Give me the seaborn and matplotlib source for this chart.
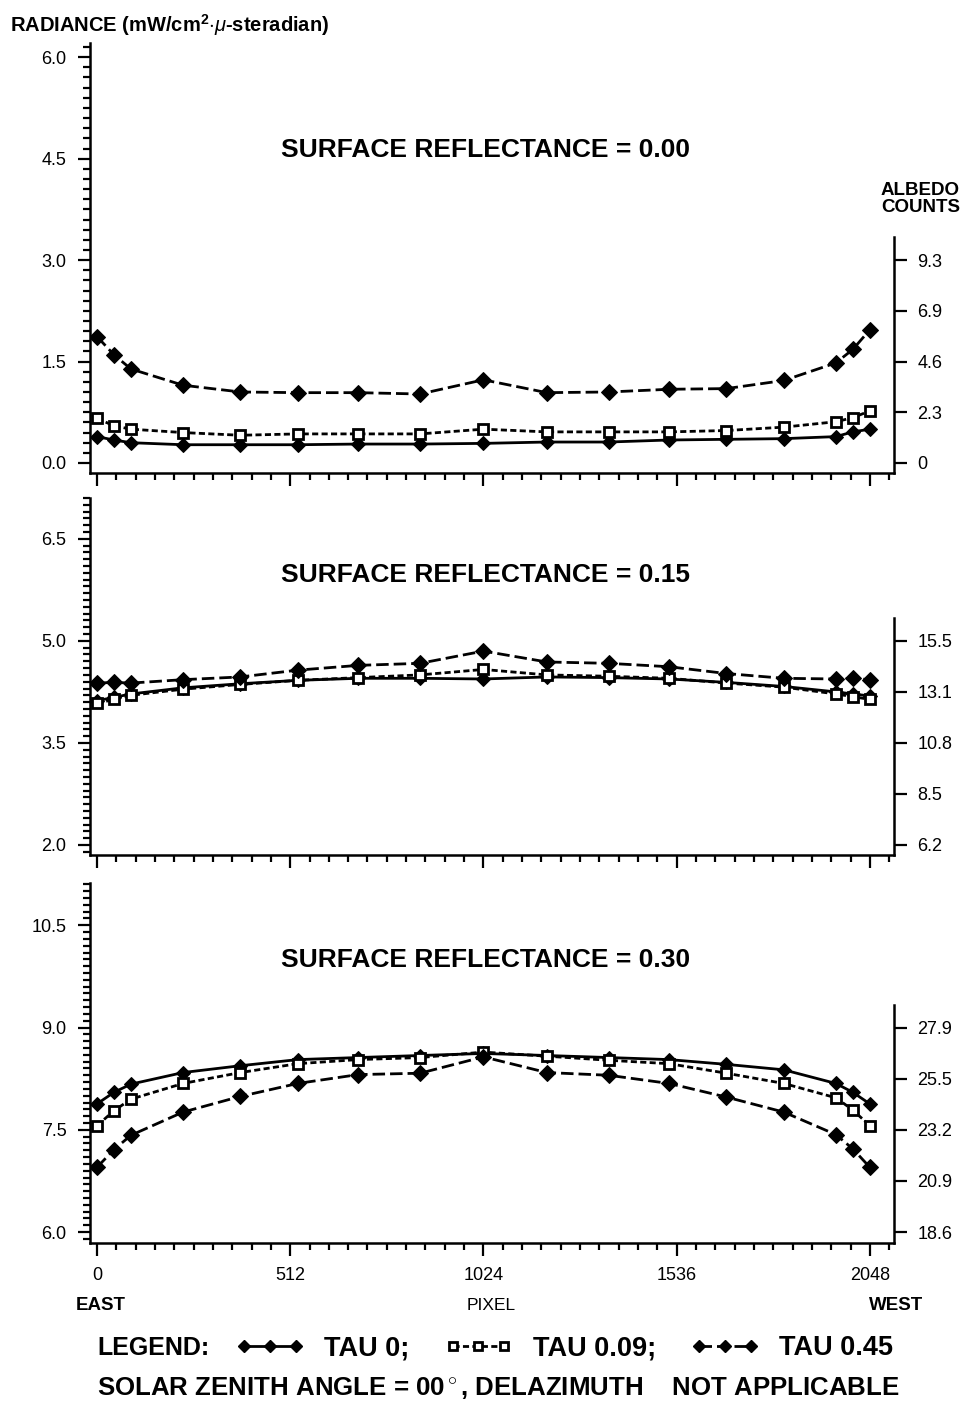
import matplotlib
matplotlib.use("Agg")
import matplotlib.pyplot as plt
from matplotlib.lines import Line2D
from matplotlib.ticker import FixedLocator, MultipleLocator
import seaborn as sns

# pixel positions of the plotted samples (east -> west)
pixels = [0, 45, 90, 228, 380, 532, 692, 856, 1024, 1192, 1356, 1516, 1668, 1820, 1958, 2003, 2048]

# surface reflectance 0.00
r000_tau0 = [0.39, 0.34, 0.30, 0.27, 0.27, 0.27, 0.28, 0.28, 0.29, 0.31, 0.31, 0.34, 0.35, 0.36, 0.39, 0.46, 0.50]
r000_tau009 = [0.66, 0.55, 0.50, 0.45, 0.41, 0.43, 0.43, 0.43, 0.50, 0.46, 0.46, 0.46, 0.48, 0.53, 0.61, 0.67, 0.77]
r000_tau045 = [1.87, 1.60, 1.39, 1.15, 1.05, 1.04, 1.04, 1.02, 1.23, 1.04, 1.05, 1.09, 1.10, 1.22, 1.48, 1.68, 1.97]

# surface reflectance 0.15
r015_tau0 = [4.12, 4.17, 4.22, 4.31, 4.37, 4.42, 4.45, 4.45, 4.44, 4.47, 4.46, 4.44, 4.39, 4.33, 4.25, 4.22, 4.19]
r015_tau009 = [4.08, 4.14, 4.20, 4.29, 4.36, 4.42, 4.46, 4.50, 4.58, 4.50, 4.48, 4.45, 4.38, 4.32, 4.22, 4.18, 4.14]
r015_tau045 = [4.38, 4.39, 4.38, 4.43, 4.47, 4.57, 4.64, 4.67, 4.85, 4.69, 4.67, 4.62, 4.52, 4.45, 4.44, 4.45, 4.43]

# surface reflectance 0.30
r030_tau0 = [7.88, 8.05, 8.17, 8.34, 8.44, 8.53, 8.56, 8.59, 8.62, 8.59, 8.56, 8.53, 8.46, 8.38, 8.18, 8.05, 7.88]
r030_tau009 = [7.56, 7.78, 7.95, 8.18, 8.34, 8.47, 8.53, 8.56, 8.64, 8.58, 8.52, 8.47, 8.33, 8.18, 7.97, 7.79, 7.56]
r030_tau045 = [6.95, 7.21, 7.42, 7.76, 7.99, 8.18, 8.31, 8.33, 8.57, 8.34, 8.30, 8.18, 7.98, 7.76, 7.43, 7.22, 6.95]

panel_titles = ["SURFACE REFLECTANCE = 0.00", "SURFACE REFLECTANCE = 0.15", "SURFACE REFLECTANCE = 0.30"]
radiance_ticks = [[0.0, 1.5, 3.0, 4.5, 6.0], [2.0, 3.5, 5.0, 6.5], [6.0, 7.5, 9.0, 10.5]]
albedo_ticks = [[0.0, 0.75, 1.5, 2.25, 3.0], [2.0, 2.75, 3.5, 4.25, 5.0], [6.0, 6.75, 7.5, 8.25, 9.0]]
albedo_labels = [["0", "2.3", "4.6", "6.9", "9.3"], ["6.2", "8.5", "10.8", "13.1", "15.5"],
                 ["18.6", "20.9", "23.2", "25.5", "27.9"]]
counts_per_radiance = 3.1
pixel_ticks = [0, 512, 1024, 1536, 2048]
tau_labels = ["TAU 0;", "TAU 0.09;", "TAU 0.45"]

series = [[r000_tau0, r000_tau009, r000_tau045],
          [r015_tau0, r015_tau009, r015_tau045],
          [r030_tau0, r030_tau009, r030_tau045]]

sns.set_theme(style="ticks")
plt.rcParams["font.family"] = ["Liberation Sans", "DejaVu Sans"]
plt.rcParams["text.color"] = "black"
plt.rcParams["axes.labelcolor"] = "black"
plt.rcParams["xtick.color"] = "black"
plt.rcParams["ytick.color"] = "black"
plt.rcParams["mathtext.fontset"] = "custom"
plt.rcParams["mathtext.rm"] = "Liberation Sans"
plt.rcParams["mathtext.bf"] = "Liberation Sans:bold"
plt.rcParams["mathtext.it"] = "Liberation Sans:italic"

W, H = 965, 1403
fig = plt.figure(figsize=(W / 100, H / 100), dpi=100)
fig.patch.set_facecolor("white")

# (top px, bottom px, ylim, minor step, right-spine top)
frames = [(43, 473, (-0.148, 6.21), 0.15, 3.34),
          (498, 855, (1.853, 7.10), 0.1, 5.34),
          (883, 1243, (5.84, 11.12), 0.1, 9.33)]
left_px, right_px = 90, 894

line_kw = [dict(linestyle="-", marker="D", markersize=7.5, markerfacecolor="black", linewidth=2.0),
           dict(linestyle=(0, (2.2, 1.2)), marker="s", markersize=7, markerfacecolor="white",
                markeredgewidth=2.0, linewidth=2.0),
           dict(linestyle=(0, (4.5, 1.8)), marker="D", markersize=8, markerfacecolor="black", linewidth=2.0)]

for i, (top, bot, ylim, minor, rtop) in enumerate(frames):
    ax = fig.add_axes([left_px / W, 1 - bot / H, (right_px - left_px) / W, (bot - top) / H])
    ax.set_facecolor("white")
    for j in range(3):
        sns.lineplot(x=pixels, y=series[i][j], ax=ax, color="black", markeredgecolor="black", **line_kw[j])
    ax.set_xlim(-18.5, 2112)
    ax.set_ylim(*ylim)
    ax.xaxis.set_major_locator(FixedLocator(pixel_ticks))
    ax.xaxis.set_minor_locator(MultipleLocator(51.2))
    ax.yaxis.set_major_locator(FixedLocator(radiance_ticks[i]))
    ax.yaxis.set_minor_locator(MultipleLocator(minor))
    ax.set_yticklabels([f"{v:.1f}" for v in radiance_ticks[i]])
    ax.tick_params(axis="both", which="major", direction="out", length=9, width=1.6,
                   labelsize=13, color="black", labelcolor="black")
    ax.tick_params(axis="both", which="minor", direction="out", length=5, width=1.6, color="black")
    ax.tick_params(axis="y", pad=8)
    ax.tick_params(axis="x", pad=8)
    if i < 2:
        ax.set_xticklabels([])
    else:
        ax.set_xticklabels([str(p) for p in pixel_ticks])
    ax.set_xlabel("")
    ax.set_ylabel("")
    for s in ["top", "right"]:
        ax.spines[s].set_visible(False)
    for s in ["left", "bottom"]:
        ax.spines[s].set_linewidth(1.8)
        ax.spines[s].set_color("black")

    axr = ax.twinx()
    axr.set_ylim(ylim[0] * counts_per_radiance, ylim[1] * counts_per_radiance)
    axr.set_yticks([v * counts_per_radiance for v in albedo_ticks[i]])
    axr.set_yticklabels(albedo_labels[i])
    axr.tick_params(axis="y", direction="out", length=9, width=1.6, labelsize=13, pad=8,
                    color="black", labelcolor="black")
    for s in ["top", "left", "bottom"]:
        axr.spines[s].set_visible(False)
    axr.spines["right"].set_linewidth(1.8)
    axr.spines["right"].set_color("black")
    axr.spines["right"].set_bounds(ylim[0] * counts_per_radiance, rtop * counts_per_radiance)
    axr.grid(False)
    ax.grid(False)

    tcy = [150, 575, 960][i]
    fig.text(486 / W, 1 - tcy / H, panel_titles[i], ha="center", va="center",
             fontsize=19, fontweight="bold")

fig.text(10 / W, 1 - 25 / H, r"RADIANCE (mW/cm$^{\mathbf{2}}$$\cdot\mu$-steradian)",
         ha="left", va="center", fontsize=14.5, fontweight="bold")
fig.text(960 / W, 1 - 199 / H, "ALBEDO\nCOUNTS", ha="right", va="center",
         fontsize=13.5, fontweight="bold", linespacing=1.0)

fig.text(101 / W, 1 - 1305 / H, "EAST", ha="center", va="center", fontsize=13.5, fontweight="bold")
fig.text(491 / W, 1 - 1305 / H, "PIXEL", ha="center", va="center", fontsize=12.5)
fig.text(896 / W, 1 - 1305 / H, "WEST", ha="center", va="center", fontsize=13.5, fontweight="bold")

handles = [Line2D([], [], color="black", markeredgecolor="black", **line_kw[j]) for j in range(3)]
fig.text(97 / W, 1 - 1348 / H, "LEGEND:", ha="left", va="center", fontsize=18, fontweight="bold")
fig.legend(handles, tau_labels, loc="center left", bbox_to_anchor=(236 / W, 1 - 1348 / H),
           ncol=3, frameon=False, numpoints=3, handlelength=2.5, handletextpad=0.75,
           columnspacing=1.3, prop={"size": 19.5, "weight": "bold"}, markerscale=0.75,
           borderaxespad=0, borderpad=0)
fig.text(97 / W, 1 - 1388 / H, "SOLAR ZENITH ANGLE = 00$^\\circ$, DELAZIMUTH    NOT APPLICABLE",
         ha="left", va="center", fontsize=18.6, fontweight="bold")

fig.savefig("out.png", dpi=100, facecolor="white")
